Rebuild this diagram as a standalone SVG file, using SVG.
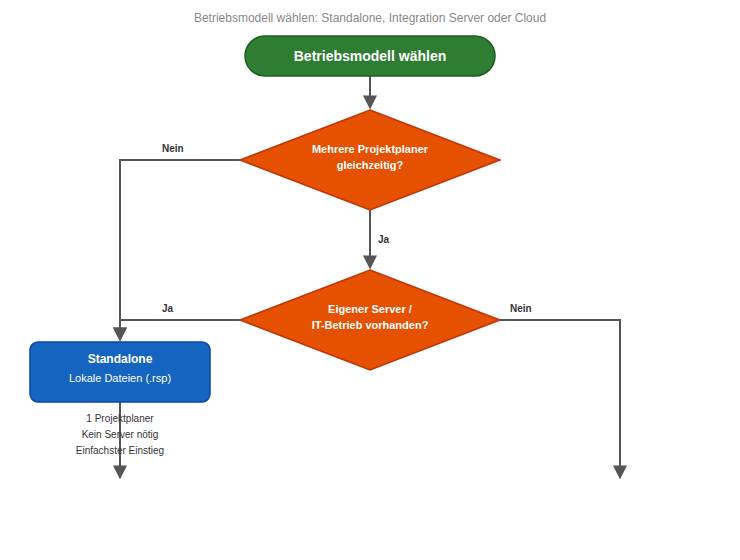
<svg xmlns="http://www.w3.org/2000/svg" width="740" height="560" viewBox="0 0 740 560">
<style>
text{font-family:"Liberation Sans",Arial,sans-serif}
.c{fill:none;stroke:#555;stroke-width:2}
.l{font-size:10px;font-weight:bold;fill:#333}
.w{fill:#fff;font-weight:bold;text-anchor:middle}
.d{fill:#e65100;stroke:#bf360c;stroke-width:1.5}
.n{font-size:10px;fill:#333;text-anchor:middle}
</style>
<defs><marker id="a" viewBox="0 0 10 10" refX="9" refY="5" markerWidth="7" markerHeight="7" orient="auto" markerUnits="userSpaceOnUse"><path d="M0,0L10,5L0,10z" fill="#555"/></marker>
<marker id="b" viewBox="0 0 10 10" refX="9" refY="5" markerWidth="14" markerHeight="14" orient="auto" markerUnits="userSpaceOnUse"><path d="M0,0L10,5L0,10z" fill="#555"/></marker></defs>
<rect width="740" height="560" fill="#fff"/>
<text x="370" y="22" text-anchor="middle" font-size="12" fill="#888">Betriebsmodell wählen: Standalone, Integration Server oder Cloud</text>
<g id="connectors">
<path class="c" d="M370,76V108" marker-end="url(#b)"/>
<path class="c" d="M370,210V268" marker-end="url(#b)"/>
<path class="c" d="M240,160H120V340" marker-end="url(#b)"/>
<path class="c" d="M240,320H120V340" marker-end="url(#b)"/>
<path class="c" d="M500,320H620V478" marker-end="url(#b)"/>
<path class="c" d="M120,402V478" marker-end="url(#b)"/>
<text class="l" x="378" y="243">Ja</text>
<text class="l" x="162" y="152">Nein</text>
<text class="l" x="162" y="312">Ja</text>
<text class="l" x="510" y="312">Nein</text>
</g>
<g id="start"><rect x="245" y="36" width="250" height="40" rx="20" fill="#2e7d32" stroke="#1b5e20" stroke-width="1.5"/><text class="w" x="370" y="61" font-size="14">Betriebsmodell wählen</text></g>
<g id="q1"><polygon class="d" points="370,110 500,160 370,210 240,160"/><text class="w" x="370" y="153" font-size="11">Mehrere Projektplaner</text><text class="w" x="370" y="169" font-size="11">gleichzeitig?</text></g>
<g id="q2"><polygon class="d" points="370,270 500,320 370,370 240,320"/><text class="w" x="370" y="313" font-size="11">Eigener Server /</text><text class="w" x="370" y="329" font-size="11">IT-Betrieb vorhanden?</text></g>
<g id="standalone"><rect x="30" y="342" width="180" height="60" rx="8" fill="#1565c0" stroke="#0d47a1" stroke-width="1.5"/><text class="w" x="120" y="363" font-size="12">Standalone</text><text x="120" y="382" font-size="11" fill="#fff" text-anchor="middle">Lokale Dateien (.rsp)</text>
<text class="n" x="120" y="422">1 Projektplaner</text><text class="n" x="120" y="438">Kein Server nötig</text><text class="n" x="120" y="454">Einfachster Einstieg</text></g>
</svg>
